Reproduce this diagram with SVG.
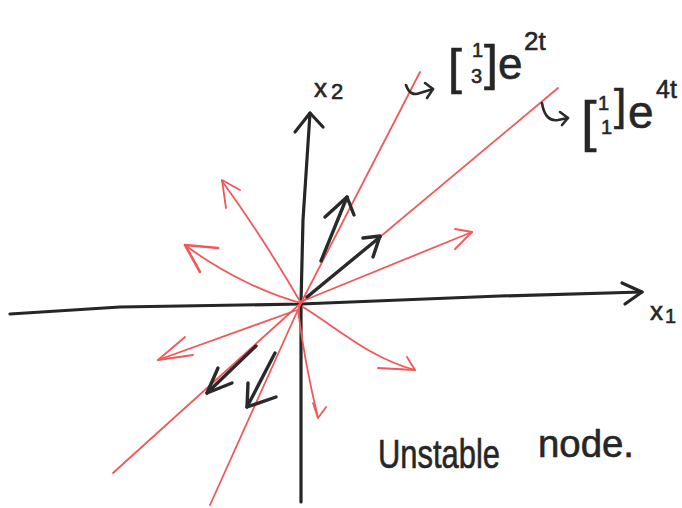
<svg xmlns="http://www.w3.org/2000/svg" width="682" height="508" viewBox="0 0 682 508">
  <style>
    .ax { fill: none; stroke: #262626; stroke-width: 3.2; stroke-linecap: round; stroke-linejoin: round; }
    .bk { fill: none; stroke: #2a2a2a; stroke-width: 3.4; stroke-linecap: round; stroke-linejoin: round; }
    .rd { fill: none; stroke: #f25858; stroke-width: 1.8; stroke-linecap: round; stroke-linejoin: round; }
    .hk { fill: none; stroke: #2a2a2a; stroke-width: 2.6; stroke-linecap: round; stroke-linejoin: round; }
    .t { font-family: "Liberation Sans", "DejaVu Sans", sans-serif; fill: #262626; stroke: #262626; stroke-width: 0.6; }
  </style>
  <rect width="682" height="508" fill="#ffffff"/>

  <g id="axes">
    <path class="ax" d="M10,314 L120,307 L301,304 L500,296 L642,292"/>
    <path class="ax" d="M622,283 L642,292 L625,304"/>
    <path class="ax" d="M301,502 L301,303 L303,220 L310,113"/>
    <path class="ax" d="M295,132 L310,113 L323,127"/>
  </g>

  <g id="connectors">
    <!-- eigen lines -->
    <path class="rd" d="M420,72 L301,303 L210,505"/>
    <path class="rd" d="M558,88 L301,303 L113,473"/>
    <!-- trajectories -->
    <path class="rd" d="M301,303 Q262,236 222,181"/>
    <path class="rd" d="M226,208 L222,180 L240,190"/>
    <path class="rd" d="M301,303 C270,295 225,275 185,245"/>
    <path class="rd" style="stroke-width:2.6" d="M200,272 L185,245 L218,248"/>
    <path class="rd" d="M305,300 L472,232"/>
    <path class="rd" d="M455,229 L472,232 L455,249"/>
    <path class="rd" d="M297,310 L158,360"/>
    <path class="rd" d="M185,337 L158,360 L193,355"/>
    <path class="rd" d="M303,307 C340,330 370,358 415,370"/>
    <path class="rd" d="M378,368 L415,370 L407,357"/>
    <path class="rd" d="M298,310 C303,350 310,385 318,418"/>
    <path class="rd" d="M313,403 L318,418 L326,407"/>
    <!-- eigen direction arrows -->
    <path class="bk" d="M321,261 L347,197"/>
    <path class="bk" d="M325,217 L347,197 L354,215"/>
    <path class="bk" d="M307,297 L380,237"/>
    <path class="bk" d="M363,238 L380,236 L373,257"/>
    <path class="bk" d="M256,346 L207,393"/>
    <path class="bk" d="M218,368 L207,393 L232,383"/>
    <path class="bk" d="M275,353 L247,407"/>
    <path class="bk" d="M248,383 L247,407 L276,397"/>
    <!-- label hooks -->
    <path class="hk" d="M406,85 Q410,97 420,93 L433,89"/>
    <path class="hk" d="M425,83 L433,89 L427,98"/>
    <path class="hk" d="M542,103 Q545,122 558,120 L568,118"/>
    <path class="hk" d="M560,112 L568,118 L562,125"/>
  </g>

  <g id="label-x2">
    <text class="t" x="314" y="97" font-size="26">x</text>
    <text class="t" x="331" y="99" font-size="22">2</text>
  </g>
  <g id="label-x1">
    <text class="t" x="650" y="320" font-size="26">x</text>
    <text class="t" x="665" y="323" font-size="20">1</text>
  </g>

  <g id="label-v1">
    <text class="t" x="448" y="84" font-size="50">[</text>
    <text class="t" x="472" y="57" font-size="20">1</text>
    <text class="t" x="471" y="83" font-size="20">3</text>
    <text class="t" x="484" y="80" font-size="50">]</text>
    <text class="t" x="498" y="79" font-size="44">e</text>
    <text class="t" x="524" y="50" font-size="26">2t</text>
  </g>

  <g id="label-v2">
    <text class="t" x="581" y="140" font-size="56">[</text>
    <text class="t" x="598" y="110" font-size="20">1</text>
    <text class="t" x="601" y="134" font-size="20">1</text>
    <text class="t" x="614" y="120" font-size="44">]</text>
    <text class="t" x="628" y="128" font-size="46">e</text>
    <text class="t" x="656" y="98" font-size="25">4t</text>
  </g>

  <g id="caption">
    <text class="t" x="378" y="468" font-size="40" textLength="122" lengthAdjust="spacingAndGlyphs">Unstable</text>
    <text class="t" x="538" y="457" font-size="38" textLength="96" lengthAdjust="spacingAndGlyphs">node.</text>
  </g>
</svg>
